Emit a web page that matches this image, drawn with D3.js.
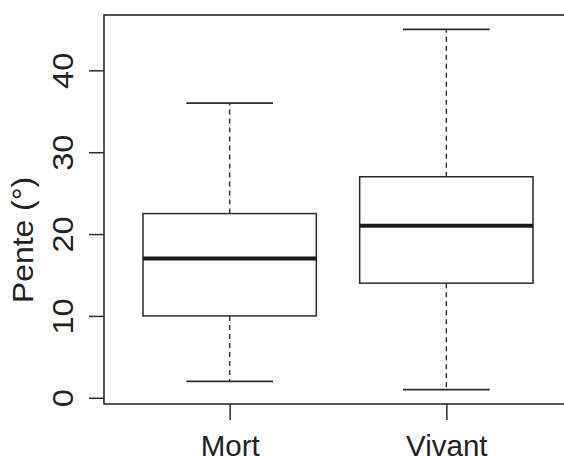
<!DOCTYPE html>
<html>
<head>
<meta charset="utf-8">
<script src="https://cdn.jsdelivr.net/npm/d3@7"></script>
<style>
  body { margin: 0; background: #fff; }
  svg { display: block; font-family: "Liberation Sans", Arial, Helvetica, sans-serif; }
</style>
</head>
<body>
<svg class="chart" width="564" height="459"></svg>
<script>
// data
var categories = ["Mort", "Vivant"];
var lowerWhisker = [2, 1];
var q1 = [10, 14];
var median = [17, 21];
var q3 = [22.5, 27];
var upperWhisker = [36, 45];
var yTicks = [0, 10, 20, 30, 40];

var svg = d3.select(".chart"),
    margin = {top: 15, left: 104, bottom: 404, right: 572};

var ink = "#2b2b2b";

// R style: xlim 0.5..2.5 and ylim from data, each padded 4%
var x = d3.scaleLinear().domain([0.42, 2.58]).range([margin.left, margin.right]);
var y = d3.scaleLinear().domain([-0.76, 46.76]).range([margin.bottom, margin.top]);

var boxes = categories.map(function(c, i) {
  return {name: c, pos: i + 1, lo: lowerWhisker[i], q1: q1[i], med: median[i], q3: q3[i], hi: upperWhisker[i]};
});

var g = svg.append("g");

// whiskers (dashed)
g.selectAll(".whisker")
    .data(boxes)
  .enter().append("g")
    .attr("class", "whisker")
    .each(function(d) {
      var s = d3.select(this);
      s.append("line")
        .attr("x1", x(d.pos)).attr("x2", x(d.pos))
        .attr("y1", y(d.q3)).attr("y2", y(d.hi))
        .attr("stroke", ink).attr("stroke-width", 1.4).attr("stroke-dasharray", "5,4");
      s.append("line")
        .attr("x1", x(d.pos)).attr("x2", x(d.pos))
        .attr("y1", y(d.q1)).attr("y2", y(d.lo))
        .attr("stroke", ink).attr("stroke-width", 1.4).attr("stroke-dasharray", "5,4");
      // caps
      [d.lo, d.hi].forEach(function(v) {
        s.append("line")
          .attr("x1", x(d.pos - 0.2)).attr("x2", x(d.pos + 0.2))
          .attr("y1", y(v)).attr("y2", y(v))
          .attr("stroke", ink).attr("stroke-width", 1.6);
      });
    });

// boxes
g.selectAll(".box")
    .data(boxes)
  .enter().append("rect")
    .attr("class", "box")
    .attr("x", function(d) { return x(d.pos - 0.4); })
    .attr("width", function(d) { return x(d.pos + 0.4) - x(d.pos - 0.4); })
    .attr("y", function(d) { return y(d.q3); })
    .attr("height", function(d) { return y(d.q1) - y(d.q3); })
    .attr("fill", "#fff")
    .attr("stroke", ink)
    .attr("stroke-width", 1.5);

// medians
g.selectAll(".median")
    .data(boxes)
  .enter().append("line")
    .attr("class", "median")
    .attr("x1", function(d) { return x(d.pos - 0.4); })
    .attr("x2", function(d) { return x(d.pos + 0.4); })
    .attr("y1", function(d) { return y(d.med); })
    .attr("y2", function(d) { return y(d.med); })
    .attr("stroke", "#1a1a1a")
    .attr("stroke-width", 4);

// plot frame
svg.append("rect")
    .attr("x", margin.left)
    .attr("y", margin.top)
    .attr("width", margin.right - margin.left)
    .attr("height", margin.bottom - margin.top)
    .attr("fill", "none")
    .attr("stroke", ink)
    .attr("stroke-width", 1.6);

// y axis
var yAxis = svg.append("g")
    .attr("transform", "translate(" + margin.left + ",0)")
    .call(d3.axisLeft(y).tickValues(yTicks).tickSize(15));
yAxis.select(".domain").remove();
yAxis.selectAll("line").attr("stroke", ink).attr("stroke-width", 1.5);
yAxis.selectAll("text")
    .attr("x", 0).attr("dy", 0)
    .attr("transform", "translate(-31,0) rotate(-90) scale(1.12,1)")
    .attr("text-anchor", "middle")
    .attr("fill", "#222")
    .style("font-size", "29px");

// x axis
var xAxis = svg.append("g")
    .attr("transform", "translate(0," + margin.bottom + ")")
    .call(d3.axisBottom(x).tickValues([1, 2]).tickSize(16)
      .tickFormat(function(d) { return categories[d - 1]; }));
xAxis.select(".domain").remove();
xAxis.selectAll("line").attr("stroke", ink).attr("stroke-width", 1.5);
xAxis.selectAll("text")
    .attr("y", 52).attr("dy", 0)
    .attr("fill", "#222")
    .style("font-size", "29.5px");

// y axis label
svg.append("text")
    .attr("transform", "translate(33,240) rotate(-90) scale(1.1,1)")
    .attr("text-anchor", "middle")
    .attr("fill", "#222")
    .style("font-size", "29px")
    .text("Pente (°)");
</script>
</body>
</html>
